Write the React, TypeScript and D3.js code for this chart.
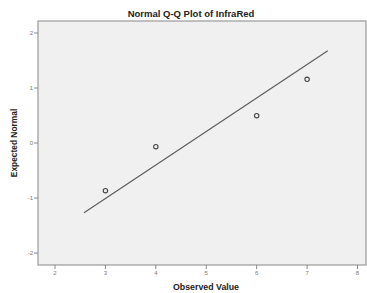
import { useEffect, useRef } from 'react';
import * as d3 from 'd3';

// Observed values and their expected normal scores
const observed = [3, 4, 6, 7];
const expected = [-0.867, -0.067, 0.496, 1.158];

// Reference line endpoints (observed, expected)
const lineX = [2.575, 7.41];
const lineY = [-1.267, 1.678];

const xTicks = [2, 3, 4, 5, 6, 7, 8];
const yTicks = [-2, -1, 0, 1, 2];

export default function App() {
  const svgRef = useRef<SVGSVGElement>(null);

  useEffect(() => {
    if (!svgRef.current) return;
    const svg = d3.select(svgRef.current);
    svg.selectAll('*').remove();

    const width = 367;
    const height = 293;
    const plot = { left: 38, top: 21, right: 366, bottom: 265 };

    svg.attr('width', width).attr('height', height);

    const xScale = d3.scaleLinear().domain([2, 8]).range([55, 357.5]);
    const yScale = d3.scaleLinear().domain([-2, 2]).range([253, 33]);

    const font = '"Liberation Sans", Arial, sans-serif';

    // Plot background
    svg.append('rect')
      .attr('x', plot.left)
      .attr('y', plot.top)
      .attr('width', plot.right - plot.left)
      .attr('height', plot.bottom - plot.top)
      .attr('fill', '#f0f0f0')
      .attr('stroke', '#9a9a9a')
      .attr('stroke-width', 1.2);

    // Y axis ticks
    const yAxis = svg.append('g');
    yTicks.forEach((t) => {
      yAxis.append('line')
        .attr('x1', plot.left - 4).attr('x2', plot.left)
        .attr('y1', yScale(t)).attr('y2', yScale(t))
        .attr('stroke', '#888').attr('stroke-width', 1);
      yAxis.append('text')
        .attr('x', plot.left - 5)
        .attr('y', yScale(t))
        .attr('dy', '0.35em')
        .attr('text-anchor', 'end')
        .attr('font-family', font)
        .attr('font-size', 6)
        .attr('fill', '#777')
        .text(t);
    });

    // X axis ticks
    const xAxis = svg.append('g');
    xTicks.forEach((t) => {
      xAxis.append('line')
        .attr('x1', xScale(t)).attr('x2', xScale(t))
        .attr('y1', plot.bottom).attr('y2', plot.bottom + 4)
        .attr('stroke', '#888').attr('stroke-width', 1);
      xAxis.append('text')
        .attr('x', xScale(t))
        .attr('y', plot.bottom + 10)
        .attr('text-anchor', 'middle')
        .attr('font-family', font)
        .attr('font-size', 6)
        .attr('fill', '#777')
        .text(t);
    });

    // Reference line
    const lineData = lineX.map((x, i) => ({ x, y: lineY[i] }));
    svg.append('path')
      .datum(lineData)
      .attr('d', d3.line<{ x: number; y: number }>()
        .x((d) => xScale(d.x))
        .y((d) => yScale(d.y)))
      .attr('fill', 'none')
      .attr('stroke', '#5a5a5a')
      .attr('stroke-width', 1.1);

    // Points
    svg.selectAll('.pt')
      .data(observed.map((x, i) => ({ x, y: expected[i] })))
      .enter().append('circle')
      .attr('class', 'pt')
      .attr('cx', (d) => xScale(d.x))
      .attr('cy', (d) => yScale(d.y))
      .attr('r', 2.2)
      .attr('fill', 'none')
      .attr('stroke', '#444')
      .attr('stroke-width', 1.1);

    // Title
    svg.append('text')
      .attr('x', 191)
      .attr('y', 17)
      .attr('text-anchor', 'middle')
      .attr('font-family', font)
      .attr('font-size', 9.5)
      .attr('font-weight', 'bold')
      .attr('fill', '#222')
      .text('Normal Q-Q Plot of InfraRed');

    // Axis titles
    svg.append('text')
      .attr('x', 206)
      .attr('y', 290)
      .attr('text-anchor', 'middle')
      .attr('font-family', font)
      .attr('font-size', 8.8)
      .attr('font-weight', 'bold')
      .attr('fill', '#222')
      .text('Observed Value');

    svg.append('text')
      .attr('transform', 'translate(17,143) rotate(-90)')
      .attr('text-anchor', 'middle')
      .attr('font-family', font)
      .attr('font-size', 8.4)
      .attr('font-weight', 'bold')
      .attr('fill', '#222')
      .text('Expected Normal');
  }, []);

  return (
    <svg
      ref={svgRef}
      style={{ display: 'block', position: 'absolute', left: 0, top: 0, background: '#fff' }}
    />
  );
}
